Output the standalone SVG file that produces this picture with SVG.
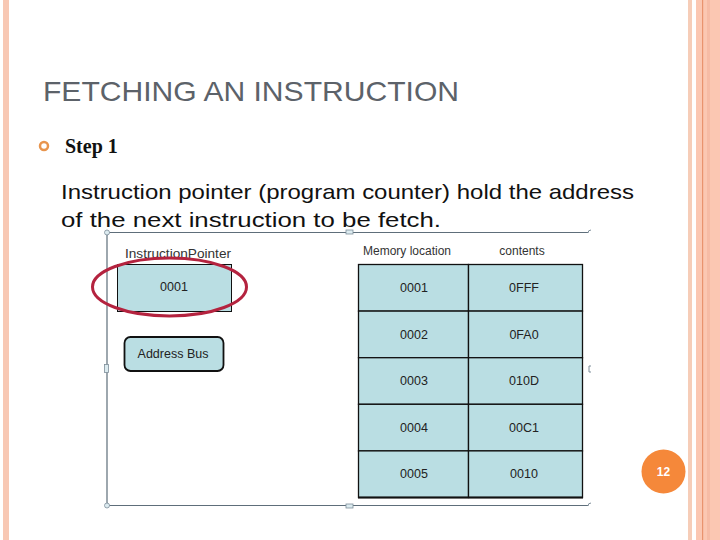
<svg xmlns="http://www.w3.org/2000/svg" width="720" height="540" viewBox="0 0 720 540">
<style>
.cell{fill:#BADEE3;stroke:#111;stroke-width:1.3}
.ct{font-family:"Liberation Sans",Arial,sans-serif;font-size:12.5px;fill:#222;text-anchor:middle}
.hd{font-family:"Liberation Sans",Arial,sans-serif;font-size:12px;fill:#333;text-anchor:middle}
.frame{fill:none;stroke:#5E6E7A;stroke-width:1.2}
.handle{fill:#DCEBF0;stroke:#7E8E9A;stroke-width:0.8}
</style>
<rect width="720" height="540" fill="#fff"/>
<!-- borders -->
<rect x="3" y="0" width="6" height="540" fill="#F8C8B4"/>
<rect x="688" y="0" width="4" height="540" fill="#F6CDB8"/>
<rect x="696" y="0" width="24" height="540" fill="#FBC7B2"/>
<rect x="702" y="0" width="1.2" height="540" fill="#E9936E"/>
<rect x="707" y="0" width="3" height="540" fill="#F6BBA5"/>

<text x="43" y="101" font-family="Liberation Sans,Arial,sans-serif" font-size="28" fill="#5C6269" textLength="416" lengthAdjust="spacingAndGlyphs">FETCHING AN INSTRUCTION</text>
<circle cx="44" cy="146" r="4" fill="none" stroke="#E8954E" stroke-width="2.5"/>
<text x="65" y="153" font-family="Liberation Serif,Times New Roman,serif" font-size="20" font-weight="bold" fill="#111">Step 1</text>

<!-- frame -->
<g id="frame">
<path class="frame" d="M588 232.5 H110 Q107 232.5 107 235.5 V502 Q107 505.5 110 505.5 H588"/>
<rect class="handle" x="346" y="230" width="7" height="4"/>
<rect class="handle" x="104.5" y="364.5" width="4" height="8"/>
<path d="M591 366 H589 V372 H591" fill="none" stroke="#7E8E9A" stroke-width="1"/>
<path d="M591 230 Q588 230 588 233" fill="none" stroke="#7E8E9A" stroke-width="1"/>
<path d="M591 503 Q588 503 588 506" fill="none" stroke="#7E8E9A" stroke-width="1"/>
<circle class="handle" cx="107" cy="232.5" r="2.5"/>
<circle class="handle" cx="107" cy="505.5" r="2.5"/>
<rect class="handle" x="346" y="504" width="7" height="4"/>
</g>

<text font-family="Liberation Sans,Arial,sans-serif" font-size="21" fill="#111">
<tspan x="61" y="199" textLength="573" lengthAdjust="spacingAndGlyphs">Instruction pointer (program counter) hold the address</tspan>
<tspan x="61" y="227" textLength="380" lengthAdjust="spacingAndGlyphs">of the next instruction to be fetch.</tspan>
</text>

<g id="instruction-pointer">
<text x="178" y="258" class="hd" textLength="106" lengthAdjust="spacingAndGlyphs">InstructionPointer</text>
<rect x="117.5" y="264.5" width="114" height="47" fill="#BADEE3" stroke="#111" stroke-width="1"/>
<text x="174" y="291" class="ct">0001</text>
</g>
<g id="highlight">
<ellipse cx="169.5" cy="287" rx="77" ry="29" fill="none" stroke="#B4233F" stroke-width="3"/>
</g>
<g id="address-bus">
<rect x="124.5" y="337" width="99" height="34" rx="6" fill="#BADEE3" stroke="#111" stroke-width="1.8"/>
<text x="173" y="358" class="ct">Address Bus</text>
</g>

<g id="memory">
<text x="407" y="255" class="hd">Memory location</text>
<text x="522" y="255" class="hd">contents</text>
<rect class="cell" x="358.5" y="264.5" width="110" height="46.6"/>
<rect class="cell" x="468.5" y="264.5" width="114" height="46.6"/>
<rect class="cell" x="358.5" y="311.1" width="110" height="46.6"/>
<rect class="cell" x="468.5" y="311.1" width="114" height="46.6"/>
<rect class="cell" x="358.5" y="357.7" width="110" height="46.6"/>
<rect class="cell" x="468.5" y="357.7" width="114" height="46.6"/>
<rect class="cell" x="358.5" y="404.3" width="110" height="46.6"/>
<rect class="cell" x="468.5" y="404.3" width="114" height="46.6"/>
<rect class="cell" x="358.5" y="450.9" width="110" height="46.6"/>
<rect class="cell" x="468.5" y="450.9" width="114" height="46.6"/>
<line x1="358" y1="497.5" x2="583" y2="497.5" stroke="#111" stroke-width="2"/>
<text x="414" y="292" class="ct">0001</text><text x="524" y="292" class="ct">0FFF</text>
<text x="414" y="339" class="ct">0002</text><text x="524" y="339" class="ct">0FA0</text>
<text x="414" y="385" class="ct">0003</text><text x="524" y="385" class="ct">010D</text>
<text x="414" y="432" class="ct">0004</text><text x="524" y="432" class="ct">00C1</text>
<text x="414" y="478" class="ct">0005</text><text x="524" y="478" class="ct">0010</text>
</g>

<g id="page-number">
<circle cx="663.5" cy="471.5" r="22" fill="#F5883A"/>
<text x="663.5" y="476" font-family="Liberation Sans,Arial,sans-serif" font-size="12" font-weight="bold" fill="#fff" text-anchor="middle">12</text>
</g>
</svg>
